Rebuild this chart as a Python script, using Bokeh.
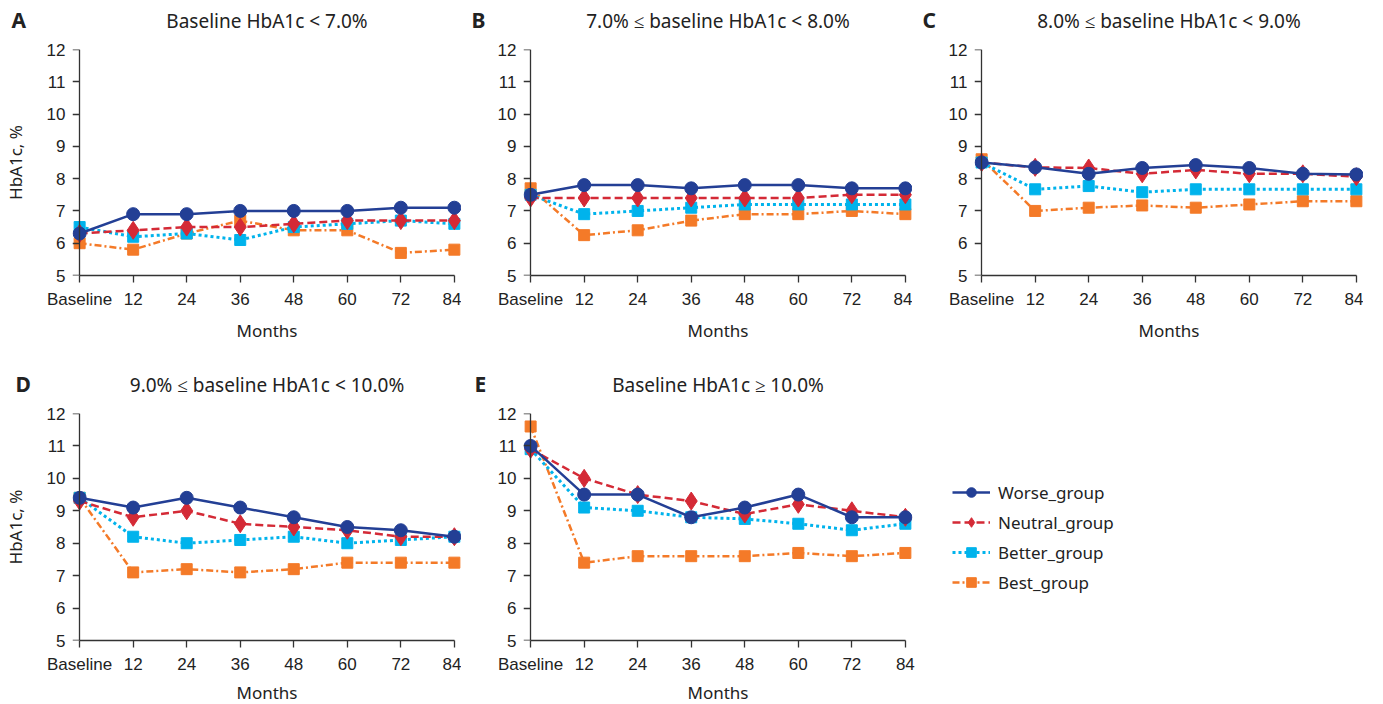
from bokeh.plotting import figure
from bokeh.models import Range1d, LinearAxis, FixedTicker, Title, Legend, LegendItem
from bokeh.layouts import row, column
from bokeh.embed import file_html
from bokeh.resources import INLINE

# ---------------- data ----------------
months = [0, 12, 24, 36, 48, 60, 72, 84]
month_labels = ["Baseline", "12", "24", "36", "48", "60", "72", "84"]
y_ticks = [5, 6, 7, 8, 9, 10, 11, 12]
groups = ["Worse_group", "Neutral_group", "Better_group", "Best_group"]

# Panel A: Baseline HbA1c < 7.0%
a_worse = [6.3, 6.9, 6.9, 7.0, 7.0, 7.0, 7.1, 7.1]
a_neutral = [6.3, 6.4, 6.5, 6.5, 6.6, 6.7, 6.7, 6.7]
a_better = [6.5, 6.2, 6.3, 6.1, 6.5, 6.6, 6.7, 6.6]
a_best = [6.0, 5.8, 6.3, 6.7, 6.4, 6.4, 5.7, 5.8]

# Panel B: 7.0% <= baseline < 8.0%
b_worse = [7.5, 7.8, 7.8, 7.7, 7.8, 7.8, 7.7, 7.7]
b_neutral = [7.4, 7.4, 7.4, 7.4, 7.4, 7.4, 7.5, 7.5]
b_better = [7.5, 6.9, 7.0, 7.1, 7.2, 7.2, 7.2, 7.2]
b_best = [7.7, 6.25, 6.4, 6.7, 6.9, 6.9, 7.0, 6.9]

# Panel C: 8.0% <= baseline < 9.0%
c_worse = [8.5, 8.35, 8.15, 8.33, 8.42, 8.33, 8.15, 8.13]
c_neutral = [8.5, 8.35, 8.33, 8.15, 8.27, 8.15, 8.15, 8.06]
c_better = [8.5, 7.67, 7.77, 7.58, 7.67, 7.67, 7.67, 7.67]
c_best = [8.6, 7.0, 7.1, 7.17, 7.1, 7.2, 7.3, 7.3]

# Panel D: 9.0% <= baseline < 10.0%
d_worse = [9.4, 9.1, 9.4, 9.1, 8.8, 8.5, 8.4, 8.2]
d_neutral = [9.3, 8.8, 9.0, 8.6, 8.5, 8.4, 8.2, 8.2]
d_better = [9.4, 8.2, 8.0, 8.1, 8.2, 8.0, 8.1, 8.2]
d_best = [9.4, 7.1, 7.2, 7.1, 7.2, 7.4, 7.4, 7.4]

# Panel E: Baseline >= 10.0%
e_worse = [11.0, 9.5, 9.5, 8.8, 9.1, 9.5, 8.8, 8.8]
e_neutral = [10.9, 10.0, 9.5, 9.3, 8.9, 9.2, 9.0, 8.8]
e_better = [10.9, 9.1, 9.0, 8.8, 8.75, 8.6, 8.4, 8.6]
e_best = [11.6, 7.4, 7.6, 7.6, 7.6, 7.7, 7.6, 7.7]

# ---------------- styles ----------------
colors = {"Worse_group": "#233f95", "Neutral_group": "#d42a36",
          "Better_group": "#00b3ec", "Best_group": "#f47a28"}
dashes = {"Worse_group": "solid", "Neutral_group": "8 4",
          "Better_group": "3 3", "Best_group": "7 3 2 3"}
widths = {"Worse_group": 2.5, "Neutral_group": 2.5, "Better_group": 3, "Best_group": 2.5}
markers = {"Worse_group": ("circle", 13), "Neutral_group": ("diamond", 18),
           "Better_group": ("square", 11), "Best_group": ("square", 11)}

AX = "#333333"
TXT = "#222222"
NUM_FONT = "Liberation Sans"
TXT_FONT = "Noto Sans"
FRAME_W = 389
TEXT_H = 26      # measured text box height of a 19px Noto Sans line
TITLE_GAP = 16   # px between the title's text box bottom and the top of the axes


def make_panel(letter, title, series, bl, br, bt, fh, bb, letter_off,
               ylabel=False, xlabel_standoff=7):
    p = figure(frame_width=FRAME_W, frame_height=fh,
               x_range=Range1d(-1.6, 85.6), y_range=Range1d(5, 12),
               x_axis_location=None, y_axis_location=None,
               output_backend="svg", toolbar_location=None,
               min_border_left=bl, min_border_right=br,
               min_border_top=bt, min_border_bottom=bb,
               title=None)
    p.outline_line_color = None
    p.grid.visible = False

    # blank spacer filling the top border, so the titles can sit on one line
    spacer = Title(text=" ", text_font=TXT_FONT, text_font_size="19px",
                   standoff=bt - 2 - TEXT_H)
    p.add_layout(spacer, "above")

    title_standoff = 2 * (TITLE_GAP - bt)
    main_title = Title(text=title, align="center", text_font=TXT_FONT,
                       text_font_size="19px", text_font_style="normal",
                       text_color=TXT, standoff=title_standoff)
    p.add_layout(main_title, "above")
    letter_title = Title(text=letter, align="left", offset=letter_off,
                         text_font=TXT_FONT, text_font_size="21px",
                         text_font_style="bold", text_color=TXT,
                         standoff=title_standoff)
    p.add_layout(letter_title, "above")

    # x axis (months)
    xa = LinearAxis(ticker=FixedTicker(ticks=months), bounds=(months[0], months[-1]),
                    axis_label="Months")
    xa.major_label_overrides = {m: lab for m, lab in zip(months, month_labels)}
    xa.major_label_text_font = NUM_FONT
    xa.major_label_text_font_size = "17px"
    xa.major_label_text_color = TXT
    xa.major_label_standoff = 7
    xa.major_tick_out = 7
    xa.major_tick_in = 0
    xa.axis_line_color = AX
    xa.axis_line_width = 1.3
    xa.major_tick_line_color = AX
    xa.major_tick_line_width = 1.3
    xa.axis_label_text_font = TXT_FONT
    xa.axis_label_text_font_size = "17px"
    xa.axis_label_text_font_style = "normal"
    xa.axis_label_text_color = TXT
    xa.axis_label_standoff = xlabel_standoff
    p.add_layout(xa, "below")

    # y axis line + ticks placed at the baseline month
    ya = LinearAxis(ticker=FixedTicker(ticks=y_ticks), fixed_location=months[0],
                    bounds=(y_ticks[0], y_ticks[-1]))
    ya.major_label_text_color = None
    ya.major_tick_out = 7
    ya.major_tick_in = 0
    ya.axis_line_color = AX
    ya.axis_line_width = 1.3
    ya.major_tick_line_color = AX
    ya.major_tick_line_width = 1.3
    p.add_layout(ya, "left")

    # y tick labels (+ axis title) at the frame edge
    yl = LinearAxis(ticker=FixedTicker(ticks=y_ticks))
    yl.axis_line_color = None
    yl.major_tick_line_color = None
    yl.major_tick_out = 0
    yl.major_tick_in = 0
    yl.major_label_standoff = 7
    yl.major_label_text_font = NUM_FONT
    yl.major_label_text_font_size = "17px"
    yl.major_label_text_color = TXT
    if ylabel:
        yl.axis_label = "HbA1c, %"
        yl.axis_label_text_font = TXT_FONT
        yl.axis_label_text_font_size = "17px"
        yl.axis_label_text_font_style = "normal"
        yl.axis_label_text_color = TXT
        yl.axis_label_standoff = 17
    p.add_layout(yl, "left")

    rends = {}
    for g in ["Best_group", "Better_group", "Neutral_group", "Worse_group"]:
        vals = series[g]
        ln = p.line(months, vals, line_color=colors[g], line_width=widths[g],
                    line_dash=dashes[g])
        mk, sz = markers[g]
        sc = p.scatter(months, vals, marker=mk, size=sz, fill_color=colors[g],
                       line_color=colors[g])
        rends[g] = [ln, sc]
    return p, rends


def ser(w, n, b, s):
    return {"Worse_group": w, "Neutral_group": n, "Better_group": b, "Best_group": s}


pA, _ = make_panel("A", "Baseline HbA1c < 7.0%", ser(a_worse, a_neutral, a_better, a_best),
                   bl=72, br=0, bt=49, fh=226, bb=83, letter_off=-61, ylabel=True)
pB, _ = make_panel("B", "7.0% \u2264 baseline HbA1c < 8.0%", ser(b_worse, b_neutral, b_better, b_best),
                   bl=62, br=0, bt=49, fh=226, bb=83, letter_off=-52)
pC, _ = make_panel("C", "8.0% \u2264 baseline HbA1c < 9.0%", ser(c_worse, c_neutral, c_better, c_best),
                   bl=62, br=0, bt=49, fh=226, bb=83, letter_off=-52)
pD, _ = make_panel("D", "9.0% \u2264 baseline HbA1c < 10.0%", ser(d_worse, d_neutral, d_better, d_best),
                   bl=72, br=0, bt=55, fh=227, bb=54, letter_off=-57, ylabel=True,
                   xlabel_standoff=4)
pE, rE = make_panel("E", "Baseline HbA1c \u2265 10.0%", ser(e_worse, e_neutral, e_better, e_best),
                    bl=62, br=230, bt=55, fh=227, bb=54, letter_off=-49, xlabel_standoff=4)

legend = Legend(items=[LegendItem(label=g, renderers=rE[g]) for g in groups],
                location=(40, 46), glyph_width=38, glyph_height=24, label_height=24,
                spacing=6, padding=0, margin=0, border_line_color=None,
                background_fill_alpha=0, label_standoff=8,
                label_text_font=TXT_FONT, label_text_font_size="17px",
                label_text_color=TXT)
pE.add_layout(legend, "right")

layout = column(row(pA, pB, pC), row(pD, pE))

open("out.html", "w").write(file_html(layout, INLINE))
